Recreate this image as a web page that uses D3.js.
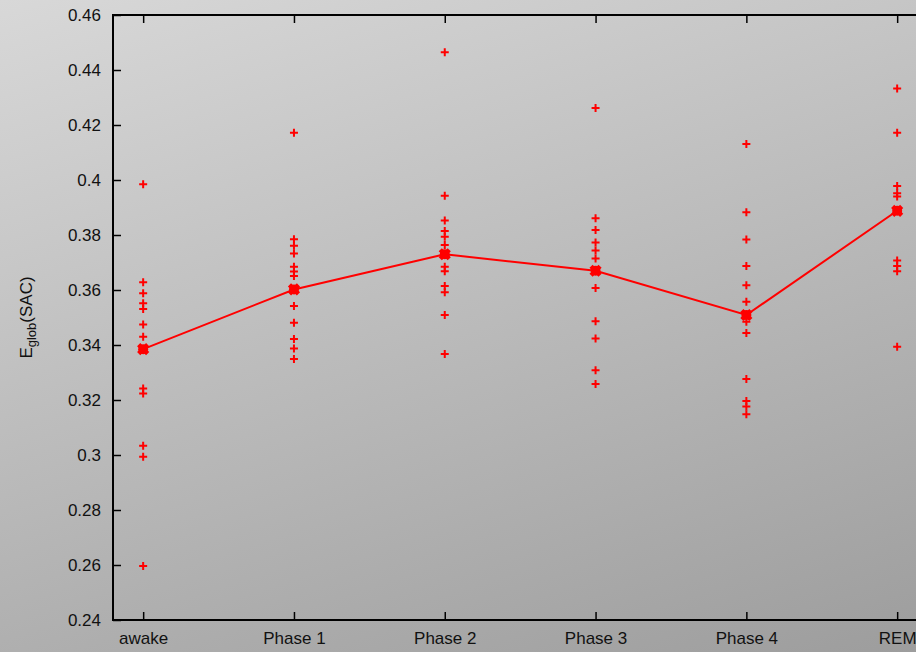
<!DOCTYPE html>
<html>
<head>
<meta charset="utf-8">
<script src="https://cdn.jsdelivr.net/npm/d3@7"></script>
<style>
  html, body { margin: 0; padding: 0; overflow: hidden; }
  svg { display: block; font-family: "Liberation Sans", Arial, Helvetica, sans-serif; }
</style>
</head>
<body>
<svg id="chart" width="916" height="652"></svg>
<script>
// categories on the x axis
const phases = ["awake", "Phase 1", "Phase 2", "Phase 3", "Phase 4", "REM"];

// individual subject values, one array per phase
const awakeVals  = [0.3985, 0.3628, 0.3588, 0.3552, 0.3531, 0.3475, 0.3430, 0.3242, 0.3224, 0.3034, 0.2994, 0.2596];
const phase1Vals = [0.4172, 0.3785, 0.3761, 0.3733, 0.3685, 0.3667, 0.3651, 0.3542, 0.3481, 0.3422, 0.3387, 0.3349];
const phase2Vals = [0.4465, 0.3943, 0.3853, 0.3815, 0.3794, 0.3764, 0.3685, 0.3668, 0.3615, 0.3592, 0.3509, 0.3367];
const phase3Vals = [0.4262, 0.3861, 0.3818, 0.3773, 0.3744, 0.3715, 0.3607, 0.3486, 0.3424, 0.3308, 0.3258];
const phase4Vals = [0.4131, 0.3883, 0.3784, 0.3687, 0.3617, 0.3557, 0.3485, 0.3444, 0.3276, 0.3196, 0.3176, 0.3148];
const remVals    = [0.4333, 0.4172, 0.3978, 0.3952, 0.3940, 0.3707, 0.3687, 0.3668, 0.3394];

// mean per phase (line + big marker)
const meanVals = [0.3385, 0.3602, 0.3730, 0.3670, 0.3509, 0.3888];

const yTicks = [0.24, 0.26, 0.28, 0.3, 0.32, 0.34, 0.36, 0.38, 0.4, 0.42, 0.44, 0.46];

const allVals = [awakeVals, phase1Vals, phase2Vals, phase3Vals, phase4Vals, remVals];

const svg = d3.select("#chart");
const W = 916, H = 652;
const margin = { top: 15, left: 113, bottom: 620 };
const fs = 17;

// background gradient, light top-left to darker bottom-right
const defs = svg.append("defs");
const grad = defs.append("linearGradient")
    .attr("id", "bg")
    .attr("gradientUnits", "userSpaceOnUse")
    .attr("x1", 0).attr("y1", 0)
    .attr("x2", 274).attr("y2", 857);
grad.append("stop").attr("offset", "0%").attr("stop-color", "#d8d8d8");
grad.append("stop").attr("offset", "100%").attr("stop-color", "#9d9d9d");
svg.append("rect").attr("width", W).attr("height", H).attr("fill", "url(#bg)");

const x = d3.scaleLinear().domain([-0.2, 5.2]).range([margin.left, margin.left + 5.4 * 150.8]);
const y = d3.scaleLinear().domain([0.24, 0.46]).range([margin.bottom, margin.top]);

const plotRight = x(5.2);

// frame
svg.append("rect")
    .attr("x", margin.left).attr("y", margin.top)
    .attr("width", plotRight - margin.left)
    .attr("height", margin.bottom - margin.top)
    .attr("fill", "none").attr("stroke", "#000").attr("stroke-width", 2);

// y axis (ticks inward)
const yAxis = svg.append("g")
    .attr("transform", `translate(${margin.left},0)`)
    .call(d3.axisRight(y).tickValues(yTicks).tickSize(8).tickFormat(d3.format("")));
yAxis.select(".domain").remove();
yAxis.selectAll("line").attr("stroke", "#000").attr("stroke-width", 1.5);
yAxis.selectAll("text")
    .attr("x", -12).attr("text-anchor", "end")
    .attr("font-size", fs).attr("fill", "#111");

// bottom axis (ticks inward)
const xAxis = svg.append("g")
    .attr("transform", `translate(0,${margin.bottom})`)
    .call(d3.axisTop(x).tickValues(d3.range(phases.length)).tickSize(8).tickFormat(i => phases[i]));
xAxis.select(".domain").remove();
xAxis.selectAll("line").attr("stroke", "#000").attr("stroke-width", 1.5);
xAxis.selectAll("text")
    .attr("y", 24).attr("dy", 0)
    .attr("font-size", fs).attr("fill", "#111");

// top mirrored ticks
const xTop = svg.append("g")
    .attr("transform", `translate(0,${margin.top})`)
    .call(d3.axisBottom(x).tickValues(d3.range(phases.length)).tickSize(8).tickFormat(""));
xTop.select(".domain").remove();
xTop.selectAll("line").attr("stroke", "#000").attr("stroke-width", 1.5);

// y label
const yl = svg.append("text")
    .attr("transform", `translate(32,${(margin.top + margin.bottom) / 2}) rotate(-90)`)
    .attr("text-anchor", "middle")
    .attr("font-size", fs).attr("fill", "#111");
yl.append("tspan").text("E");
yl.append("tspan").attr("font-size", 13).attr("dy", 4).text("glob");
yl.append("tspan").attr("dy", -4).text("(SAC)");

const red = "#ff0000";

// individual points as "+"
const plus = svg.append("g");
allVals.forEach((vals, i) => {
    plus.selectAll(null)
        .data(vals)
        .join("path")
        .attr("d", v => {
            const cx = x(i), cy = y(v), s = 4;
            return `M${cx - s},${cy}H${cx + s}M${cx},${cy - s}V${cy + s}`;
        })
        .attr("stroke", red).attr("stroke-width", 2).attr("fill", "none");
});

// mean line
svg.append("path")
    .datum(meanVals)
    .attr("d", d3.line().x((d, i) => x(i)).y(d => y(d)))
    .attr("fill", "none").attr("stroke", red).attr("stroke-width", 2);

// mean markers
svg.append("g").selectAll("path")
    .data(meanVals)
    .join("path")
    .attr("d", (v, i) => {
        const cx = x(i), cy = y(v), s = 4.5;
        return `M${cx - s},${cy - s}L${cx + s},${cy + s}M${cx - s},${cy + s}L${cx + s},${cy - s}`;
    })
    .attr("stroke", red).attr("stroke-width", 4.5).attr("fill", "none");
svg.append("g").selectAll("circle")
    .data(meanVals)
    .join("circle")
    .attr("cx", (v, i) => x(i)).attr("cy", v => y(v))
    .attr("r", 5).attr("fill", red);
</script>
</body>
</html>
